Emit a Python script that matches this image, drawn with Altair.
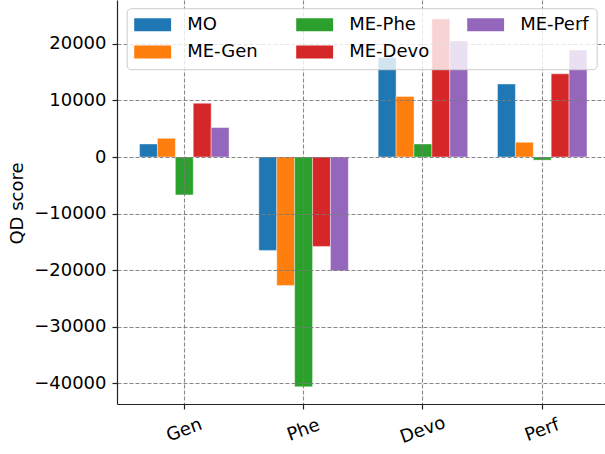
import altair as alt
import pandas as pd

categories = ["Gen", "Phe", "Devo", "Perf"]
series = ["MO", "ME-Gen", "ME-Phe", "ME-Devo", "ME-Perf"]
mo = [2300, -16500, 17600, 12900]
me_gen = [3300, -22700, 10700, 2600]
me_phe = [-6700, -40600, 2300, -550]
me_devo = [9500, -15800, 24400, 14700]
me_perf = [5200, -20100, 20500, 18900]
colors = ["#1f77b4", "#ff7f0e", "#2ca02c", "#d62728", "#9467bd"]
y_ticks = [-40000, -30000, -20000, -10000, 0, 10000, 20000]
y_domain = [-43640, 27740]

values = {"MO": mo, "ME-Gen": me_gen, "ME-Phe": me_phe, "ME-Devo": me_devo, "ME-Perf": me_perf}
rows = []
for s in series:
    for c, v in zip(categories, values[s]):
        rows.append({"category": c, "series": s, "value": v})
df = pd.DataFrame(rows)

FONT = "DejaVu Sans"

chart = alt.Chart(df).mark_bar(stroke="white", strokeOpacity=0.4, strokeWidth=1).encode(
    x=alt.X(
        "category:N",
        sort=categories,
        scale=alt.Scale(paddingInner=0.25, paddingOuter=0.17, align=0.556),
        axis=alt.Axis(
            title=None,
            labelAngle=340,
            labelAlign="center",
            labelBaseline="middle",
            labelPadding=21,
            tickSize=5,
            grid=True,
            zindex=1,
        ),
    ),
    xOffset=alt.XOffset("series:N", sort=series),
    y=alt.Y(
        "value:Q",
        stack=None,
        scale=alt.Scale(domain=y_domain, nice=False),
        axis=alt.Axis(
            values=y_ticks,
            format="d",
            title="QD score",
            titleFontSize=18,
            titleFontWeight="normal",
            titleAngle=270,
            titleX=-100,
            titleY=203,
            titleAlign="center",
            titleBaseline="middle",
            labelPadding=6,
            tickSize=5,
            grid=True,
            zindex=1,
        ),
    ),
    color=alt.Color(
        "series:N",
        scale=alt.Scale(domain=series, range=colors),
        legend=alt.Legend(
            title=None,
            orient="none",
            legendX=9.7,
            legendY=8.2,
            columns=3,
            symbolType="M-1,-0.72L3.1,-0.72L3.1,0.72L-1,0.72Z",
            symbolSize=324,
            symbolStrokeWidth=0,
            symbolOpacity=1,
            labelFontSize=18,
            labelFont=FONT,
            labelColor="black",
            labelOffset=35,
            columnPadding=38,
            rowPadding=9.3,
            padding=7.5,
            fillColor="rgba(255,255,255,0.8)",
            strokeColor="#cccccc",
            cornerRadius=4,
            zindex=2,
        ),
    ),
).properties(
    width=488,
    height=404,
    autosize=alt.AutoSizeParams(type="none"),
    padding={"left": 117, "top": 0, "right": 0, "bottom": 50},
).configure(
    font=FONT,
).configure_axis(
    labelFont=FONT,
    labelFontSize=18,
    labelColor="black",
    titleFont=FONT,
    titleFontSize=18,
    titleColor="black",
    domainColor="#222222",
    domainWidth=1.2,
    tickColor="#222222",
    tickWidth=1.2,
    gridColor="#7a7a7a",
    gridDash=[4, 2],
    gridWidth=1.1,
    gridOpacity=0.9,
).configure_view(
    stroke="transparent",
)

chart.save("out.html", embed_options={"renderer": "svg", "actions": False})
